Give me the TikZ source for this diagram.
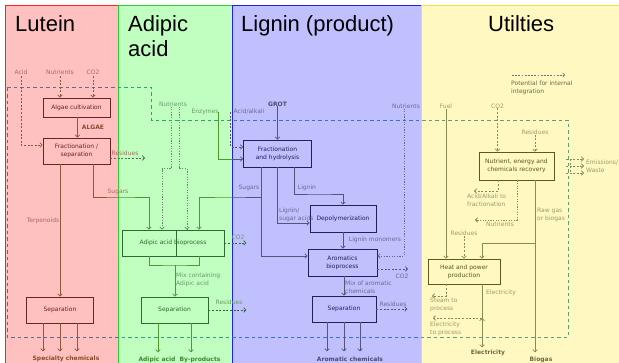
\documentclass[tikz,border=0pt]{standalone}
\usepackage{fontspec}
\setmainfont{DejaVu Sans}
\newfontfamily\titlefont{Liberation Sans}
\usetikzlibrary{arrows.meta}
\definecolor{lutbg}{HTML}{FFC0C0}
\definecolor{lutedge}{HTML}{FF2020}
\definecolor{lutbox}{HTML}{6B2222}
\definecolor{lutline}{HTML}{8B5A3A}
\definecolor{luttext}{HTML}{A86A60}
\definecolor{lutout}{HTML}{8B4A2A}
\definecolor{adbg}{HTML}{C0FFC0}
\definecolor{adedge}{HTML}{33CC33}
\definecolor{adbox}{HTML}{2E6A2E}
\definecolor{adline}{HTML}{4E9A30}
\definecolor{addot}{HTML}{6A8A6A}
\definecolor{adtext}{HTML}{6A9A6A}
\definecolor{adout}{HTML}{3E8A2E}
\definecolor{lgbg}{HTML}{C0C0FF}
\definecolor{lgedge}{HTML}{2020E0}
\definecolor{lgbox}{HTML}{20205A}
\definecolor{lgline}{HTML}{55557A}
\definecolor{lgtext}{HTML}{6A6A90}
\definecolor{lgout}{HTML}{4A4A70}
\definecolor{utbg}{HTML}{FFF8C0}
\definecolor{utedge}{HTML}{F0E040}
\definecolor{utbox}{HTML}{5A5A1E}
\definecolor{utline}{HTML}{8A8A55}
\definecolor{uttext}{HTML}{9C9C6C}
\definecolor{utdark}{HTML}{6A6A45}
\definecolor{legdark}{HTML}{707070}
\definecolor{bndL}{HTML}{5A6E8C}
\definecolor{bndA}{HTML}{30A07A}
\definecolor{bndG}{HTML}{3A6FD0}
\definecolor{bndU}{HTML}{5AA07A}
\definecolor{resgray}{HTML}{5A6A5A}
\tikzset{
  box/.style={draw, line width=0.8pt, inner sep=0pt, align=center, font=\fontsize{6}{8}\selectfont},
  lbox/.style={box, draw=lutbox, fill=lutbg, text=lutbox},
  abox/.style={box, draw=adbox, fill=adbg, text=adbox},
  gbox/.style={box, draw=lgbox, fill=lgbg, text=lgbox},
  ubox/.style={box, draw=utbox, fill=utbg, text=utbox},
  lbl/.style={inner sep=0pt, font=\fontsize{6}{8}\selectfont, align=left},
  ltxt/.style={lbl, text=luttext},
  atxt/.style={lbl, text=adtext},
  gtxt/.style={lbl, text=lgtext},
  utxt/.style={lbl, text=uttext},
  outl/.style={inner sep=0pt, font=\fontsize{6}{8}\selectfont\bfseries},
  lout/.style={outl, text=lutout},
  aout/.style={outl, text=adout},
  gout/.style={outl, text=lgout},
  uout/.style={outl, text=utdark},
  arr/.style={-{Straight Barb[length=2.2pt,width=4.6pt]}},
  dsh/.style={dash pattern=on 2pt off 1.6pt},
  dotl/.style={dash pattern=on 1.3pt off 1.3pt},
  fl/.style={line width=0.75pt},
  lfl/.style={fl, draw=lutline},
  afl/.style={fl, draw=adline},
  gfl/.style={fl, draw=lgline},
  ufl/.style={fl, draw=utline},
  bnd/.style={line width=0.7pt, dash pattern=on 3.5pt off 3pt},
  ttl/.style={inner sep=0pt, anchor=base west, font=\titlefont\fontsize{22}{25}\selectfont},
}
\begin{document}
\begin{tikzpicture}[x=1pt,y=-1pt]
\useasboundingbox (0,0) rectangle (619,363);
% columns
\begin{scope}
\clip (0,0) rectangle (619,363);
\draw[fill=lutbg, draw=lutedge, line width=0.9pt] (5,5) rectangle (118,380);
\draw[fill=adbg, draw=adedge, line width=0.9pt] (118,5) rectangle (232,380);
\draw[fill=lgbg, draw=lgedge, line width=0.9pt] (232,5) rectangle (421,380);
\draw[fill=utbg, draw=utedge, line width=0.9pt] (421,5) rectangle (640,380);
\end{scope}
% titles
\node[ttl] (tL) at (15,32) {Lutein};
\node[ttl] (tA1) at (128,32) {Adipic};
\node[ttl] (tA2) at (128,57) {acid};
\node[ttl] (tG) at (241,32) {Lignin (product)};
\node[ttl] (tU) at (488,32) {Utilties};
% system boundary
\foreach \xa/\xb/\c in {0/118/bndL, 118/232/bndA, 232/421/bndG, 421/619/bndU} {
  \begin{scope}
  \clip (\xa,0) rectangle (\xb,363);
  \draw[bnd, draw=\c] (7,87) -- (151,87) -- (151,120.5) -- (568,120.5) -- (568,337.5) -- (7,337.5) -- cycle;
  \end{scope}
}
% ---------------- Lutein
\node[ltxt] (acidL) at (21,72) {Acid};
\node[ltxt] (nutL) at (60,72) {Nutrients};
\node[ltxt] (co2L) at (93,72) {CO2};
\node[lbox, minimum width=67pt, minimum height=19pt] (alg) at (76.5,107.5) {Algae cultivation};
\node[lbox, minimum width=67pt, minimum height=26pt] (frac) at (76.5,151) {Fractionation /\\separation};
\node[lbox, minimum width=67pt, minimum height=26pt] (sepL) at (60,310) {Separation};
\draw[lfl,dsh,arr,shorten <=1.5pt] (nutL.south) -- (nutL.south |- alg.north);
\draw[lfl,dsh,arr,shorten <=1.5pt] (co2L.south) -- (co2L.south |- alg.north);
\draw[lfl,dsh,arr,shorten <=1.5pt] (acidL.south) |- ([yshift=6pt]frac.west);
\draw[lfl,arr] (alg.south -| 77.5,0) -- (frac.north -| 77.5,0);
\node[lout] (algae) at (93,127) {ALGAE};
\coordinate (resLend) at (145,158);
\draw[fl,draw=resgray,dsh,arr] ([yshift=-7pt]frac.east) -- (resLend);
\node[ltxt] (resL) at (125,153) {Residues};
\draw[lfl,arr] (frac.south -| sepL.north) -- (sepL.north);
\node[ltxt] (terp) at (43,221) {Terpenoids};
\foreach \dx in {-17,0,17} \draw[lfl,arr] ([xshift=\dx pt]sepL.south) -- ++(0,28);
\node[lout] (spec) at (66,359) {Specialty chemicals};
% ---------------- Adipic acid
\node[abox, minimum width=102pt, minimum height=26pt] (adb) at (173,243) {Adipic acid bioprocess};
\draw[draw=adbox, line width=0.8pt] ([xshift=3pt]adb.north) -- ([xshift=3pt]adb.south);
\node[abox, minimum width=67pt, minimum height=26pt] (sepA) at (174.5,310) {Separation};
\coordinate (sugLb) at (120,197);
\begin{scope}
\clip (0,0) rectangle (118,363);
\draw[lfl] ([xshift=16.5pt]frac.south) |- (sugLb) -| ([xshift=-24pt]adb.north);
\end{scope}
\begin{scope}
\clip (118,0) rectangle (232,363);
\draw[afl,arr] ([xshift=16.5pt]frac.south) |- (sugLb) -| ([xshift=-24pt]adb.north);
\end{scope}
\node[ltxt] (sugL) at (118,192) {Sugars};
\node[atxt] (nutA) at (173,104) {Nutrients};
\draw[fl,draw=addot,dotl,arr] ([xshift=-2pt]nutA.south) -- ++(0,62) -| ([xshift=-11pt]adb.north);
\draw[fl,draw=addot,dotl,arr] ([xshift=6pt]nutA.south) -- ++(0,62) -| ([xshift=14pt]adb.north);
\node[atxt] (enz) at (205,112) {Enzymes};
\coordinate (mixj) at (175,265);
\draw[afl] ([xshift=-24pt]adb.south) |- (mixj) -| ([xshift=26pt]adb.south);
\draw[afl,arr] (mixj) -- (mixj |- sepA.north);
\node[atxt, anchor=west] (mixA) at (176,280) {Mix containing\\Adipic acid};
\draw[fl,draw=adbox,dsh,arr] (adb.east) -- ++(22,0);
\node[atxt] (co2A) at (238,237) {CO2};
\draw[fl,draw=adbox,dsh,arr] (sepA.east) -- ++(38,0);
\node[atxt] (resA) at (229,302) {Residues};
\draw[afl,arr] ([xshift=-16.5pt]sepA.south) -- ++(0,29);
\draw[afl,arr] ([xshift=16.5pt]sepA.south) -- ++(0,29);
\node[aout] (adac) at (157,360) {Adipic acid};
\node[aout] (byp) at (200,360) {By-products};
% ---------------- Lignin
\node[gbox, minimum width=68pt, minimum height=27pt] (fh) at (277.5,153.5) {Fractionation\\and hydrolysis};
\node[gbox, minimum width=66pt, minimum height=27pt] (dep) at (343,218.5) {Depolymerization};
\node[gbox, minimum width=69pt, minimum height=27pt] (arb) at (342.5,262.5) {Aromatics\\bioprocess};
\node[gbox, minimum width=64pt, minimum height=26pt] (sepG) at (344,309) {Separation};
\node[gout] (grot) at (277.5,104) {GROT};
\draw[gfl,arr] (grot) -- (fh);
\node[gtxt] (acal) at (249,112) {Acid/alkali};
\draw[gfl,dsh,arr] ([xshift=-3pt]acal.west) |- ([yshift=6.5pt]fh.west);
\begin{scope}
\clip (0,0) rectangle (232,363);
\draw[afl] (enz.east) |- ([yshift=-5.5pt]fh.west);
\end{scope}
\begin{scope}
\clip (232,0) rectangle (421,363);
\draw[gfl,arr] (enz.east) |- ([yshift=-5.5pt]fh.west);
\end{scope}
\coordinate (sugGb) at (230,197);
\begin{scope}
\clip (232,0) rectangle (421,363);
\draw[gfl] ([xshift=-16.5pt]fh.south) |- (sugGb) -| ([xshift=26pt]adb.north);
\end{scope}
\begin{scope}
\clip (118,0) rectangle (232,363);
\draw[afl,arr] ([xshift=-16.5pt]fh.south) |- (sugGb) -| ([xshift=26pt]adb.north);
\end{scope}
\node[gtxt] (sugG) at (249,188) {Sugars};
\draw[gfl,arr] ([xshift=-16.5pt]fh.south) |- ([yshift=6.5pt]arb.west);
\draw[gfl,arr] ([xshift=-0.5pt]fh.south) |- ([yshift=-4.5pt]dep.west);
\node[gtxt, anchor=west] (lsa) at (279,215) {Lignin/\\sugar acids};
\coordinate (lgb) at (320,194);
\draw[gfl,arr] ([xshift=16.5pt]fh.south) |- (lgb) -| (dep.north);
\node[gtxt] (lig) at (307,188) {Lignin};
\draw[gfl,arr] (dep.south) -- (dep.south |- arb.north);
\node[gtxt] (lmon) at (375,240) {Lignin monomers};
\node[gtxt] (nutG) at (406,106) {Nutrients};
\draw[fl,draw=lgtext,dotl,arr] ([xshift=-2pt]nutG.south) |- ([yshift=6.5pt]arb.east);
\coordinate (co2Gend) at (408,269);
\draw[gfl,dsh,arr] ([yshift=-6.5pt]arb.east) -- (co2Gend);
\node[gtxt] (co2G) at (402,276) {CO2};
\draw[gfl,arr] (sepG.north |- arb.south) -- (sepG.north);
\node[gtxt, anchor=west] (mixG) at (345,287) {Mix of aromatic\\chemicals};
\draw[gfl,dsh,arr] (sepG.east) -- ++(31,0);
\node[gtxt] (resG) at (393,304) {Residues};
\foreach \dx in {-17,0,16} \draw[gfl,arr] ([xshift=\dx pt]sepG.south) -- ++(0,29);
\node[gout] (aroc) at (350,359) {Aromatic chemicals};
% ---------------- Utilities
\coordinate (lg1) at (512,75);
\coordinate (lg2) at (565,75);
\draw[dash pattern=on 1.8pt off 1.4pt, draw=legdark, line width=0.45pt, -{Straight Barb[length=2pt,width=4.2pt]}] (lg1) -- (lg2);
\node[lbl, text=utdark, anchor=west] (legt) at (511,88) {Potential for internal\\integration};
\node[utxt] (fuel) at (446,106) {Fuel};
\node[utxt] (co2U) at (497.5,106) {CO2};
\node[utxt] (resU) at (535,132) {Residues};
\node[ubox, minimum width=75pt, minimum height=28pt] (nr) at (516.5,166) {Nutrient, energy and\\chemicals recovery};
\node[ubox, minimum width=72pt, minimum height=25pt] (hp) at (464,271.5) {Heat and power\\production};
\draw[ufl,arr] (fuel.south) -- (fuel.south |- hp.north);
\draw[ufl,dsh,arr] (co2U.south) -- (co2U.south |- nr.north);
\draw[ufl,dsh,arr] (resU.south) -- (resU.south |- nr.north);
\coordinate (emv) at (570,166);
\draw[ufl,dsh] ([yshift=7pt]emv) -- ([yshift=-7pt]emv);
\foreach \dy in {7,0,-7} \draw[ufl,dsh,arr] ([xshift=-4pt,yshift=\dy pt]emv) -- ([xshift=14pt,yshift=\dy pt]emv);
\node[utxt, anchor=west] (emis) at (586,166) {Emissions/\\Waste};
\coordinate (aaend) at (474,191);
\draw[ufl,dsh,arr] ([xshift=-18.5pt]nr.south) |- (aaend);
\node[utxt, anchor=west] (aat) at (467,200) {Acid/Alkali to\\fractionation};
\coordinate (nuend) at (475,220);
\draw[ufl,dotl,arr] ([xshift=0.5pt]nr.south) |- (nuend);
\node[utxt] (nutU) at (500,224) {Nutrients};
\draw[ufl,arr] ([xshift=18.5pt]nr.south) -- ++(0,172);
\coordinate (rawb) at (535,243);
\draw[ufl,arr] (rawb) -| ([xshift=18pt]hp.north);
\node[utxt, anchor=west] (rawt) at (537,215) {Raw gas\\or biogas};
\node[utxt] (resU2) at (464,233) {Residues};
\draw[ufl,dsh,arr] (resU2.south) -- (hp.north);
\coordinate (stend) at (432,296);
\draw[ufl,dsh,arr] ([xshift=-18pt]hp.south) |- (stend);
\node[utxt, anchor=west] (steam) at (430,305) {Steam to\\process};
\draw[ufl,arr] ([xshift=18pt]hp.south) -- ++(0,63);
\node[utxt] (elt) at (501,293) {Electricity};
\coordinate (etp) at (482,318);
\coordinate (etpend) at (433,318);
\draw[ufl,dsh,arr] (etp) -- (etpend);
\draw[ufl,arr] ([yshift=-5pt]etp) -- (etp);
\node[utxt, anchor=west] (etpt) at (430,328.5) {Electricity\\to process};
\node[uout] (elec) at (488,353) {Electricity};
\node[uout] (biog) at (541,360) {Biogas};
\end{tikzpicture}
\end{document}
